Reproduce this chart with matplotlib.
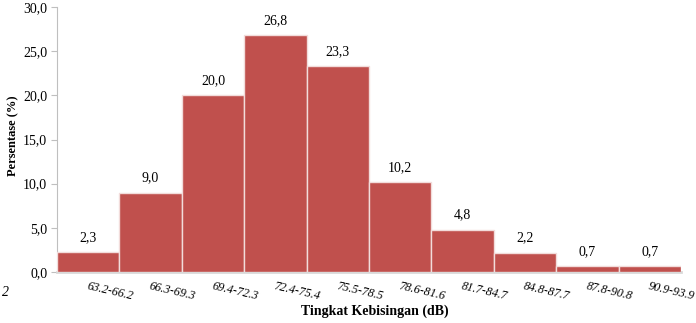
import matplotlib
matplotlib.use("Agg")
import matplotlib.pyplot as plt
import numpy as np

categories = ["63.2-66.2", "66.3-69.3", "69.4-72.3", "72.4-75.4", "75.5-78.5",
              "78.6-81.6", "81.7-84.7", "84.8-87.7", "87.8-90.8", "90.9-93.9"]
values = [2.3, 9.0, 20.0, 26.8, 23.3, 10.2, 4.8, 2.2, 0.7, 0.7]
yticks = [0, 5, 10, 15, 20, 25, 30]

plt.rcParams['font.family'] = ['Liberation Serif', 'DejaVu Serif']

fig = plt.figure(figsize=(6.96, 3.23), dpi=100)
ax = fig.add_axes([57/696, 51/323, 624/696, 265/323])

x = np.arange(len(categories))
ax.bar(x, values, width=1.0, color='#C0504D', edgecolor='#F2DCDB', linewidth=1.0, zorder=3)
ax.set_xlim(-0.5, len(categories) - 0.5)
ax.set_ylim(0, 30)
ax.set_yticks(yticks)
ax.set_yticklabels([f"{v:.1f}".replace('.', ',') for v in yticks], fontsize=10)
ax.set_xticks(x)
ax.set_xticklabels([])
for xi, c in zip(x, categories):
    ax.text(xi - 0.02, -1.6, c, rotation=-13, rotation_mode='anchor', ha='left', va='center',
            fontsize=8.8, style='italic')

for xi, v in zip(x, values):
    ax.text(xi, v + 0.9, f"{v:.1f}".replace('.', ','), ha='center', va='bottom', fontsize=10)

for s in ['top', 'right']:
    ax.spines[s].set_visible(False)
ax.spines['left'].set_color('#BFBFBF')
ax.spines['bottom'].set_color('#D9D9D9')
ax.spines['bottom'].set_linewidth(2)
ax.tick_params(axis='y', length=4, color='#BFBFBF', pad=3)
ax.tick_params(axis='x', length=0)

fig.text(375/696, 1 - 311/323, "Tingkat Kebisingan (dB)", ha='center', va='center',
         fontsize=10, fontweight='bold')
fig.text(13/696, 1 - 136/323, "Persentase (%)", ha='center', va='center',
         fontsize=9, fontweight='bold', rotation=90)
fig.text(5/696, 1 - 293/323, "2", ha='center', va='center', fontsize=10, style='italic')

fig.savefig("out.png", dpi=100)
